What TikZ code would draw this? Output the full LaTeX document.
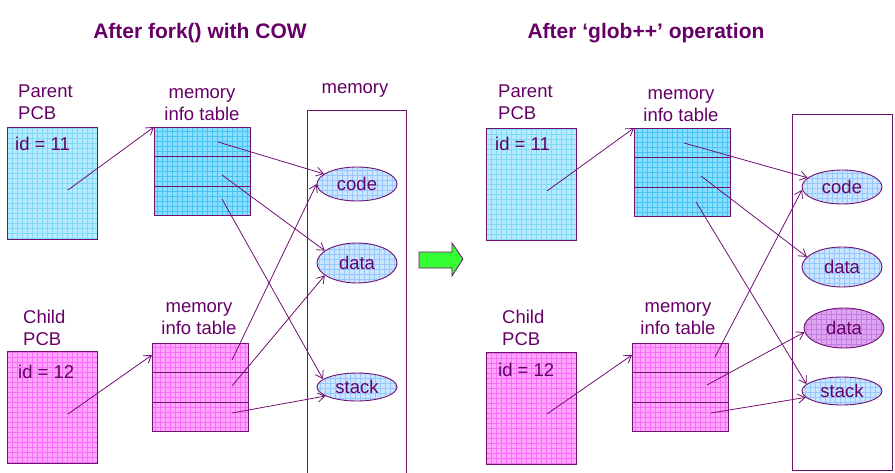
\documentclass[tikz,border=0pt]{standalone}
\usepackage{fontspec}
\setmainfont{Liberation Sans}
\usepackage{tikz}
\usetikzlibrary{arrows.meta,positioning,calc,shapes.geometric}
\definecolor{DeepPurple}{RGB}{102,0,102}
\definecolor{LinePurple}{RGB}{112,16,112}
\definecolor{SkyFill}{RGB}{180,235,255}
\definecolor{SkyGrid}{RGB}{130,215,245}
\definecolor{CyanFill}{RGB}{135,222,255}
\definecolor{CyanGrid}{RGB}{70,195,240}
\definecolor{PinkFill}{RGB}{255,165,255}
\definecolor{PinkGrid}{RGB}{245,110,245}
\definecolor{OvalFill}{RGB}{204,229,255}
\definecolor{OvalGrid}{RGB}{150,200,255}
\definecolor{OrchidFill}{RGB}{222,165,240}
\definecolor{OrchidGrid}{RGB}{195,125,225}
\definecolor{GoGreen}{RGB}{51,255,51}
\newcommand{\txtsize}{\fontsize{18.5}{22}\selectfont}

\begin{document}
\begin{tikzpicture}[x=1pt,y=-1pt,
  meshfill/.style 2 args={fill=#1,path picture={\draw[#2,line width=0.5pt]
      (path picture bounding box.south west) grid[step=5pt] (path picture bounding box.north east);}},
  pcb/.style={rectangle,draw=LinePurple,line width=1.2pt,minimum width=90pt,
              minimum height=112pt,inner sep=0pt,anchor=north west},
  memtab/.style={rectangle,draw=LinePurple,line width=1.2pt,minimum width=96pt,
              minimum height=88pt,inner sep=0pt,anchor=north west},
  membox/.style={rectangle,draw=LinePurple,line width=0.9pt,minimum width=99pt,
              inner sep=0pt,anchor=north west},
  seg/.style={ellipse,draw=LinePurple,line width=0.9pt,minimum width=80pt,
              inner sep=0pt,font=\txtsize,text=DeepPurple},
  lbl/.style={font=\txtsize,text=DeepPurple,inner sep=0pt},
  ttl/.style={font=\bfseries\fontsize{21}{25}\selectfont,text=DeepPurple,
              inner sep=0pt,anchor=north},
  arr/.style={-{Straight Barb[length=7pt,width=9pt]},LinePurple,line width=0.8pt}
]
  \useasboundingbox (0,0) rectangle (895,472);

  % after fork() with COW
  \node[ttl] (ttlL) at (200,23) {After fork() with COW};
  \node[pcb,meshfill={SkyFill}{SkyGrid}] (pcbP) at (7,127) {};
  \node[pcb,meshfill={PinkFill}{PinkGrid}] (pcbC) at (7,351) {};
  \node[lbl,anchor=north west,align=left] (capP) at (18,85) {Parent\\PCB};
  \node[lbl,anchor=north west,align=left] (capC) at (23,310) {Child\\PCB};
  \node[lbl,anchor=north west] (idP) at (15,137) {id = 11};
  \node[lbl,anchor=north west] (idC) at (18,365) {id = 12};
  \node[memtab,meshfill={CyanFill}{CyanGrid}] (tabP) at (154,127) {};
  \node[memtab,meshfill={PinkFill}{PinkGrid}] (tabC) at (152,343) {};
  \node[lbl,anchor=north,align=center] (capTP) at (202,88) {memory\\info table};
  \node[lbl,anchor=north,align=center] (capTC) at (199,302) {memory\\info table};
  \node[membox,minimum height=372pt] (memL) at (307,110) {};
  \node[lbl,anchor=north] (capM) at (355,83) {memory};
  \node[seg,minimum height=34pt,meshfill={OvalFill}{OvalGrid}] (codeL) at (357,184) {code};
  \node[seg,minimum height=40pt,meshfill={OvalFill}{OvalGrid}] (dataL) at (357,263) {data};
  \node[seg,minimum height=28pt,meshfill={OvalFill}{OvalGrid}] (stackL) at (357,387) {stack};

  % after glob++
  \node[ttl] (ttlR) at (646,23) {After ‘glob++’ operation};
  \node[pcb,meshfill={SkyFill}{SkyGrid}] (pcbP2) at (486,128) {};
  \node[pcb,meshfill={PinkFill}{PinkGrid}] (pcbC2) at (486,352) {};
  \node[lbl,anchor=north west,align=left] (capP2) at (498,85) {Parent\\PCB};
  \node[lbl,anchor=north west,align=left] (capC2) at (502,310) {Child\\PCB};
  \node[lbl,anchor=north west] (idP2) at (495,137) {id = 11};
  \node[lbl,anchor=north west] (idC2) at (498,363) {id = 12};
  \node[memtab,meshfill={CyanFill}{CyanGrid}] (tabP2) at (634,128) {};
  \node[memtab,meshfill={PinkFill}{PinkGrid}] (tabC2) at (632,343) {};
  \node[lbl,anchor=north,align=center] (capTP2) at (681,89) {memory\\info table};
  \node[lbl,anchor=north,align=center] (capTC2) at (678,302) {memory\\info table};
  \node[membox,minimum width=100pt,minimum height=356pt] (memR) at (792,114) {};
  \node[seg,minimum height=34pt,meshfill={OvalFill}{OvalGrid}] (codeR) at (842,187) {code};
  \node[seg,minimum height=40pt,meshfill={OvalFill}{OvalGrid}] (dataR) at (842,267) {data};
  \node[seg,minimum height=40pt,meshfill={OrchidFill}{OrchidGrid}] (dataC) at (844,328) {data};
  \node[seg,minimum height=28pt,meshfill={OvalFill}{OvalGrid}] (stackR) at (842,391) {stack};

  % table rows
  \foreach \t in {tabP,tabC,tabP2,tabC2}
    \foreach \f in {1/3,2/3}
      \draw[LinePurple,line width=1.2pt] ($(\t.north west)!\f!(\t.south west)$)
        -- ($(\t.north east)!\f!(\t.south east)$);

  % green arrow
  \draw[LinePurple,fill=GoGreen,line width=0.8pt] (419,252) -- (452,252) -- (452,243)
    -- (463,259) -- (452,276) -- (452,268) -- (419,268) -- cycle;

  % pointer starts
  \coordinate (pP) at (68,190);   \coordinate (pC) at (68,414);
  \coordinate (pP2) at (547,191); \coordinate (pC2) at (547,414);
  \coordinate (rP1) at (218,142); \coordinate (rP2) at (222,175); \coordinate (rP3) at (222,199);
  \coordinate (rC1) at (232,360); \coordinate (rC2) at (232,386); \coordinate (rC3) at (232,413);
  \coordinate (sP1) at (684,143); \coordinate (sP2) at (701,176); \coordinate (sP3) at (696,202);
  \coordinate (sC1) at (715,357); \coordinate (sC2) at (707,385); \coordinate (sC3) at (711,413);

  \draw[arr] (pP) -- (tabP.north west);
  \draw[arr] (pC) -- ([yshift=-12pt]tabC.north west);
  \draw[arr] (rP1) -- (codeL.163);
  \draw[arr] (rP2) -- (dataL.159);
  \draw[arr] (rP3) -- (stackL.167);
  \draw[arr] (rC1) -- (codeL.west);
  \draw[arr] (rC2) -- (dataL.201);
  \draw[arr] (rC3) -- (stackL.196);

  \draw[arr] (pP2) -- (tabP2.north west);
  \draw[arr] (pC2) -- ([yshift=-12pt]tabC2.north west);
  \draw[arr] (sP1) -- (codeR.165);
  \draw[arr] (sP2) -- (dataR.164);
  \draw[arr] (sP3) -- (stackR.169);
  \draw[arr] (sC1) -- (codeR.184);
  \draw[arr] (sC2) -- (dataC.186);
  \draw[arr] (sC3) -- (stackR.190);
\end{tikzpicture}
\end{document}
